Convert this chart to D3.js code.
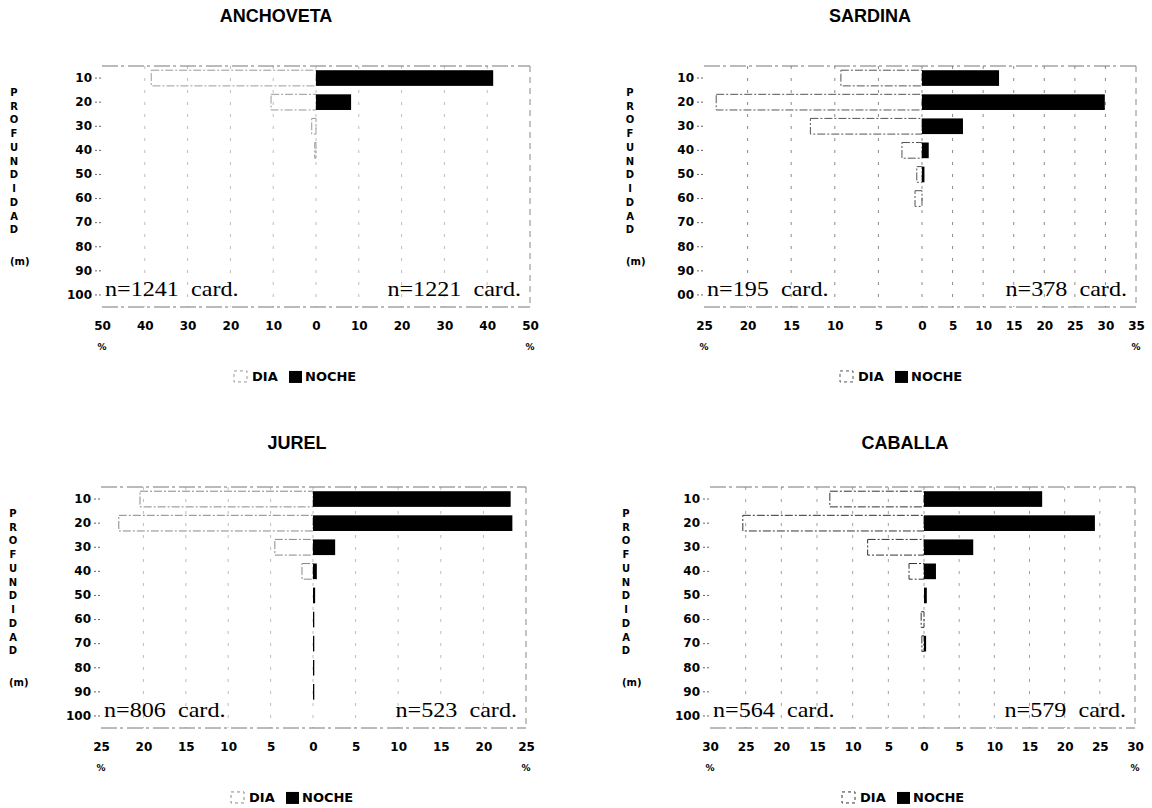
<!DOCTYPE html>
<html>
<head>
<meta charset="utf-8">
<script src="https://cdn.jsdelivr.net/npm/d3@7"></script>
<style>
  html, body { margin: 0; padding: 0; background: #fff; }
  svg { display: block; }
</style>
</head>
<body>
<svg id="chart" width="1152" height="808"></svg>
<script>
// ---------------- DATA ----------------
const depths = [10, 20, 30, 40, 50, 60, 70, 80, 90, 100];
const depthLabels = ["10", "20", "30", "40", "50", "60", "70", "80", "90", "100"];
const depthLabelsSardina = ["10", "20", "30", "40", "50", "60", "70", "80", "90", "00"];
const axisLetters = ["P", "R", "O", "F", "U", "N", "D", "I", "D", "A", "D"];

const anchovetaDia   = [38.5, 10.5, 1.0, 0.3, 0, 0, 0, 0, 0, 0];
const anchovetaNoche = [41.4, 8.2, 0, 0, 0, 0, 0, 0, 0, 0];
const sardinaDia     = [9.3, 23.6, 12.8, 2.3, 0.6, 0.8, 0, 0, 0, 0];
const sardinaNoche   = [12.6, 29.9, 6.7, 1.1, 0.4, 0, 0, 0, 0, 0];
const jurelDia       = [20.4, 22.9, 4.5, 1.3, 0, 0, 0, 0, 0, 0];
const jurelNoche     = [23.2, 23.4, 2.6, 0.45, 0.25, 0.15, 0.15, 0.15, 0.15, 0];
const caballaDia     = [13.2, 25.4, 7.9, 2.1, 0, 0.4, 0.3, 0, 0, 0];
const caballaNoche   = [16.8, 24.3, 7.0, 1.7, 0.4, 0, 0.3, 0, 0, 0];

const anchovetaTicks = [-50, -40, -30, -20, -10, 0, 10, 20, 30, 40, 50];
const sardinaTicks   = [-25, -20, -15, -10, -5, 0, 5, 10, 15, 20, 25, 30, 35];
const jurelTicks     = [-25, -20, -15, -10, -5, 0, 5, 10, 15, 20, 25];
const caballaTicks   = [-30, -25, -20, -15, -10, -5, 0, 5, 10, 15, 20, 25, 30];

const titles = ["ANCHOVETA", "SARDINA", "JUREL", "CABALLA"];
const nDia   = ["n=1241  card.", "n=195  card.", "n=806  card.", "n=564  card."];
const nNoche = ["n=1221  card.", "n=378  card.", "n=523  card.", "n=579  card."];
const legendLabels = ["DIA", "NOCHE"];

// ---------------- LAYOUT ----------------
const panels = [
  { title: titles[0], dia: anchovetaDia, noche: anchovetaNoche, ticks: anchovetaTicks, yLabels: depthLabels,
    nD: nDia[0], nN: nNoche[0], xL: 102, x0: 316, xR: 530, top: 66, bottom: 307,
    titleX: 276, titleY: 22, lettersX: 14, diaStroke: "#9a9a9a", grid: "#bdbdbd" },
  { title: titles[1], dia: sardinaDia, noche: sardinaNoche, ticks: sardinaTicks, yLabels: depthLabelsSardina,
    nD: nDia[1], nN: nNoche[1], xL: 704, x0: 922, xR: 1136, top: 66, bottom: 307,
    titleX: 870, titleY: 22, lettersX: 630, diaStroke: "#555", grid: "#8a8a8a" },
  { title: titles[2], dia: jurelDia, noche: jurelNoche, ticks: jurelTicks, yLabels: depthLabels,
    nD: nDia[2], nN: nNoche[2], xL: 101, x0: 313, xR: 526, top: 487, bottom: 728,
    titleX: 297, titleY: 449, lettersX: 13, diaStroke: "#888", grid: "#bdbdbd" },
  { title: titles[3], dia: caballaDia, noche: caballaNoche, ticks: caballaTicks, yLabels: depthLabels,
    nD: nDia[3], nN: nNoche[3], xL: 710, x0: 924, xR: 1135, top: 487, bottom: 728,
    titleX: 905, titleY: 449, lettersX: 626, diaStroke: "#333", grid: "#a0a0a0" }
];

const SANS = "'DejaVu Sans', 'Liberation Sans', Arial, sans-serif";
const TITLE = "'Liberation Sans', Arial, sans-serif";
const SERIF = "'Liberation Serif', 'Times New Roman', serif";

const svg = d3.select("#chart");

panels.forEach(p => {
  const g = svg.append("g");
  const leftMax = -d3.min(p.ticks);
  const rightMax = d3.max(p.ticks);

  const x = d3.scaleLinear().domain([-leftMax, 0, rightMax]).range([p.xL, p.x0, p.xR]);
  const y = d3.scaleBand().domain(depths).range([p.top, p.bottom]).paddingInner(0.35).paddingOuter(0.175);
  const yc = d => y(d) + y.bandwidth() / 2;
  const yLin = d3.scaleLinear().domain([10, 100]).range([yc(10), yc(100)]);

  // title
  g.append("text")
    .attr("x", p.titleX).attr("y", p.titleY)
    .attr("text-anchor", "middle")
    .style("font-family", TITLE).style("font-weight", "bold").style("font-size", "18px")
    .text(p.title);

  // grid lines (faint, broken as in the scan)
  g.append("g").selectAll("line")
    .data(p.ticks.filter(t => t !== -leftMax && t !== rightMax))
    .join("line")
    .attr("x1", d => x(d)).attr("x2", d => x(d))
    .attr("y1", p.top).attr("y2", p.bottom)
    .attr("stroke", p.grid).attr("stroke-width", 1)
    .attr("stroke-dasharray", "3,9");

  // frame: top, bottom, right
  g.append("line").attr("x1", p.xL).attr("x2", p.xR).attr("y1", p.top).attr("y2", p.top)
    .attr("stroke", "#777").attr("stroke-dasharray", "16,3,3,4");
  g.append("line").attr("x1", p.xL).attr("x2", p.xR).attr("y1", p.bottom).attr("y2", p.bottom)
    .attr("stroke", "#777").attr("stroke-dasharray", "16,3,3,4");
  g.append("line").attr("x1", p.xR).attr("x2", p.xR).attr("y1", p.top).attr("y2", p.bottom)
    .attr("stroke", "#888").attr("stroke-dasharray", "6,5");

  // DIA bars (outlined, to the left)
  g.append("g").selectAll("rect")
    .data(depths.map((d, i) => ({ d, v: p.dia[i] })).filter(o => o.v > 0))
    .join("rect")
    .attr("x", o => x(-o.v)).attr("width", o => x(0) - x(-o.v))
    .attr("y", o => y(o.d)).attr("height", y.bandwidth())
    .attr("fill", "none").attr("stroke", p.diaStroke).attr("stroke-width", 1)
    .attr("stroke-dasharray", "8,2,2,2");

  // NOCHE bars (black, to the right)
  g.append("g").selectAll("rect")
    .data(depths.map((d, i) => ({ d, v: p.noche[i] })).filter(o => o.v > 0))
    .join("rect")
    .attr("x", x(0)).attr("width", o => Math.max(1.2, x(o.v) - x(0)))
    .attr("y", o => y(o.d)).attr("height", y.bandwidth())
    .attr("fill", "#000");

  // y axis
  const yAxis = g.append("g")
    .attr("transform", `translate(${p.xL - 1},0)`)
    .call(d3.axisLeft(y).tickSize(7).tickPadding(2).tickFormat((d, i) => p.yLabels[i]));
  yAxis.select(".domain").remove();
  yAxis.selectAll(".tick line").attr("stroke", "#666").attr("stroke-dasharray", "2,2");
  yAxis.selectAll(".tick text")
    .style("font-family", SANS).style("font-weight", "bold").style("font-size", "12px")
    .attr("fill", "#000");

  // x axis (tick labels only)
  const xAxis = g.append("g")
    .attr("transform", `translate(0,${yLin(100) + 31})`)
    .call(d3.axisBottom(x).tickValues(p.ticks).tickFormat(d => Math.abs(d)).tickSize(0).tickPadding(0));
  xAxis.select(".domain").remove();
  xAxis.selectAll(".tick text")
    .attr("y", 0).attr("dy", "0.36em")
    .style("font-family", SANS).style("font-weight", "bold").style("font-size", "12px")
    .attr("fill", "#000");

  // % labels
  g.append("g").selectAll("text")
    .data([-leftMax, rightMax])
    .join("text")
    .attr("x", d => x(d)).attr("y", yLin(100) + 52)
    .attr("text-anchor", "middle").attr("dominant-baseline", "central")
    .style("font-family", SANS).style("font-weight", "bold").style("font-size", "9px")
    .text("%");

  // vertical axis title PROFUNDIDAD
  const letterY = d3.scaleLinear().domain([0, axisLetters.length - 1]).range([yLin(16), yLin(73)]);
  g.append("g").selectAll("text")
    .data(axisLetters)
    .join("text")
    .attr("x", p.lettersX).attr("y", (d, i) => letterY(i))
    .attr("text-anchor", "middle").attr("dominant-baseline", "central")
    .style("font-family", SANS).style("font-weight", "bold").style("font-size", "10px")
    .text(d => d);
  g.append("text")
    .attr("x", p.lettersX - 4).attr("y", yLin(86))
    .attr("dominant-baseline", "central")
    .style("font-family", SANS).style("font-weight", "bold").style("font-size", "10px")
    .text("(m)");

  // n = ... card. labels
  g.append("text")
    .attr("transform", `translate(${p.xL + 3},${yLin(100) + 1}) scale(1.15,1)`)
    .attr("text-anchor", "start")
    .style("font-family", SERIF).style("font-size", "21px").style("white-space", "pre")
    .text(p.nD);
  g.append("text")
    .attr("transform", `translate(${p.xR - 9},${yLin(100) + 1}) scale(1.15,1)`)
    .attr("text-anchor", "end")
    .style("font-family", SERIF).style("font-size", "21px").style("white-space", "pre")
    .text(p.nN);

  // legend
  const ly = yLin(100) + 82;
  const lg = g.append("g").attr("transform", `translate(${x(0)},${ly})`);
  lg.append("rect").attr("x", -82).attr("y", -6).attr("width", 13).attr("height", 11)
    .attr("fill", "none").attr("stroke", p.diaStroke).attr("stroke-dasharray", "3,3");
  lg.append("text").attr("x", -64).attr("y", 0).attr("dominant-baseline", "central")
    .style("font-family", SANS).style("font-weight", "bold").style("font-size", "13px")
    .text(legendLabels[0]);
  lg.append("rect").attr("x", -27).attr("y", -6).attr("width", 13).attr("height", 12)
    .attr("fill", "#000");
  lg.append("text").attr("x", -11).attr("y", 0).attr("dominant-baseline", "central")
    .style("font-family", SANS).style("font-weight", "bold").style("font-size", "13px")
    .text(legendLabels[1]);
});
</script>
</body>
</html>
